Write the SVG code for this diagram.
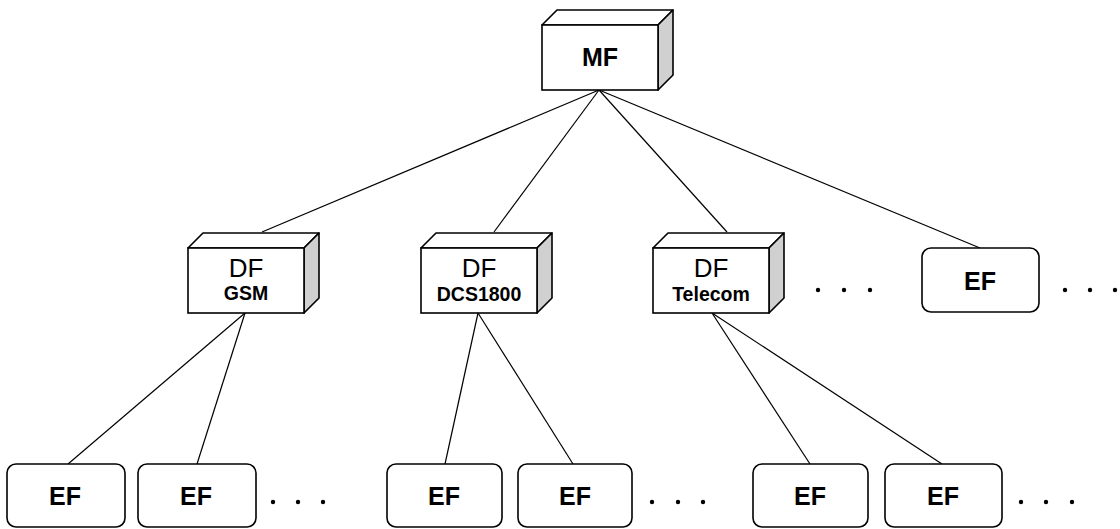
<svg xmlns="http://www.w3.org/2000/svg" width="1120" height="529" viewBox="0 0 1120 529">
<style>
.front{fill:#fff;stroke:#000;stroke-width:1.6}
.top{fill:#fff;stroke:#000;stroke-width:1.6;stroke-linejoin:round}
.side{fill:#d0d0d0;stroke:#000;stroke-width:1.6;stroke-linejoin:round}
.ef{fill:#fff;stroke:#000;stroke-width:1.6}
.lbl{font-family:"Liberation Sans",Arial,sans-serif;text-anchor:middle;fill:#000}
.big{font-size:25px;font-weight:bold}
.df{font-size:26px}
.sub{font-size:19.5px;font-weight:bold}
.conn line{stroke:#000;stroke-width:1.2}
.dots circle{fill:#000}
</style>
<defs>
<g id="cube">
<polygon class="top" points="0,15 15,0 131,0 116,15"/>
<polygon class="side" points="116,15 131,0 131,65 116,80"/>
<rect class="front" x="0" y="15" width="116" height="65"/>
</g>
</defs>
<rect width="1120" height="529" fill="#fff"/>
<g id="connectors" class="conn">
<line x1="599" y1="90" x2="262" y2="232"/>
<line x1="599" y1="90" x2="494" y2="232"/>
<line x1="599" y1="90" x2="727" y2="232"/>
<line x1="599" y1="90" x2="980" y2="248"/>
<line x1="245" y1="313" x2="68" y2="464"/>
<line x1="245" y1="313" x2="197" y2="464"/>
<line x1="478" y1="313" x2="445" y2="464"/>
<line x1="478" y1="313" x2="573" y2="464"/>
<line x1="712" y1="313" x2="810" y2="464"/>
<line x1="712" y1="313" x2="942" y2="464"/>
</g>
<g id="MF">
<use href="#cube" x="542" y="10"/>
<text class="lbl big" x="600" y="66">MF</text>
</g>
<g id="DF-GSM">
<use href="#cube" x="188" y="233"/>
<text class="lbl df" x="246" y="277">DF</text>
<text class="lbl sub" x="246" y="300">GSM</text>
</g>
<g id="DF-DCS1800">
<use href="#cube" x="421" y="233"/>
<text class="lbl df" x="479" y="277">DF</text>
<text class="lbl sub" x="479" y="301">DCS1800</text>
</g>
<g id="DF-Telecom">
<use href="#cube" x="653" y="233"/>
<text class="lbl df" x="711" y="277">DF</text>
<text class="lbl sub" x="711" y="301">Telecom</text>
</g>
<g id="EF-top">
<rect class="ef" x="922" y="248" width="117" height="64" rx="9"/>
<text class="lbl big" x="980" y="290">EF</text>
</g>
<g id="EF-1">
<rect class="ef" x="7" y="464" width="118" height="63" rx="9"/>
<text class="lbl big" x="65" y="505">EF</text>
</g>
<g id="EF-2">
<rect class="ef" x="138" y="464" width="118" height="63" rx="9"/>
<text class="lbl big" x="196" y="505">EF</text>
</g>
<g id="EF-3">
<rect class="ef" x="387" y="464" width="115" height="63" rx="9"/>
<text class="lbl big" x="444" y="505">EF</text>
</g>
<g id="EF-4">
<rect class="ef" x="518" y="464" width="114" height="63" rx="9"/>
<text class="lbl big" x="575" y="505">EF</text>
</g>
<g id="EF-5">
<rect class="ef" x="753" y="464" width="115" height="63" rx="9"/>
<text class="lbl big" x="810" y="505">EF</text>
</g>
<g id="EF-6">
<rect class="ef" x="885" y="464" width="117" height="63" rx="9"/>
<text class="lbl big" x="943" y="505">EF</text>
</g>
<g id="ellipses" class="dots">
<circle cx="818" cy="290" r="2.2"/><circle cx="844" cy="290" r="2.2"/><circle cx="870" cy="290" r="2.2"/>
<circle cx="1065" cy="290" r="2.2"/><circle cx="1090" cy="290" r="2.2"/><circle cx="1115" cy="290" r="2.2"/>
<circle cx="273" cy="502" r="2.2"/><circle cx="298" cy="502" r="2.2"/><circle cx="323" cy="502" r="2.2"/>
<circle cx="652" cy="502" r="2.2"/><circle cx="678" cy="502" r="2.2"/><circle cx="703" cy="502" r="2.2"/>
<circle cx="1021" cy="502" r="2.2"/><circle cx="1046" cy="502" r="2.2"/><circle cx="1072" cy="502" r="2.2"/>
</g>
</svg>
